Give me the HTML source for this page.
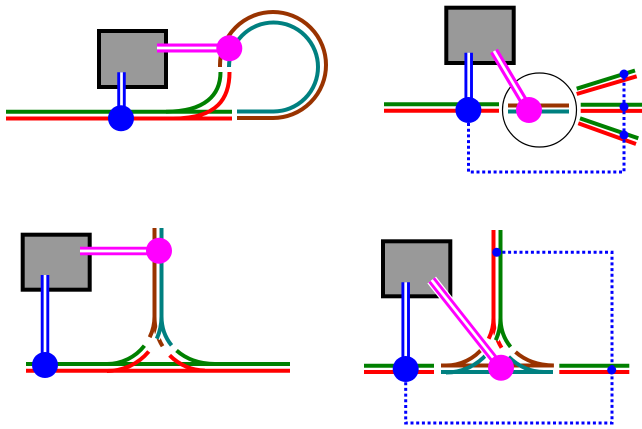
<!DOCTYPE html>
<html><head><meta charset="utf-8"><style>
html,body{margin:0;padding:0;background:#fff;}
svg{display:block;}
</style></head><body>
<svg width="642" height="429" viewBox="0 0 642 429" xmlns="http://www.w3.org/2000/svg" fill="none" stroke-linecap="butt">
<!-- ============ PANEL 1 ============ -->
<rect x="99" y="31" width="67" height="56" fill="#999999" stroke="#000" stroke-width="4"/>
<line x1="6" y1="111.7" x2="232" y2="111.7" stroke="#008000" stroke-width="4"/>
<line x1="6" y1="118.5" x2="232" y2="118.5" stroke="#ff0000" stroke-width="4"/>
<path d="M166,111.7 C205,111.7 220.5,95 220.5,72" stroke="#008000" stroke-width="4"/>
<path d="M173,118.5 C218,118.5 229.5,98 229.5,72" stroke="#ff0000" stroke-width="4"/>
<path d="M220,67 V65 A53,53 0 1 1 273,118 H237" stroke="#993300" stroke-width="4"/>
<path d="M229,67 A44.5,44.5 0 1 1 273.5,111.5 H237" stroke="#008080" stroke-width="4"/>
<line x1="121.5" y1="72.3" x2="121.5" y2="118" stroke="#0000ff" stroke-width="8.5"/>
<line x1="121.5" y1="72.3" x2="121.5" y2="110" stroke="#fff" stroke-width="2.7"/>
<circle cx="121" cy="118.3" r="13" fill="#0000ff"/>
<line x1="157" y1="48" x2="229" y2="48" stroke="#ff00ff" stroke-width="9"/>
<line x1="157" y1="48" x2="220" y2="48" stroke="#fff" stroke-width="2.7"/>
<circle cx="229.3" cy="48.3" r="13" fill="#ff00ff"/>

<!-- ============ PANEL 2 ============ -->
<rect x="446.3" y="7.7" width="67.4" height="55.3" fill="#999999" stroke="#000" stroke-width="4"/>
<line x1="384" y1="104.3" x2="499" y2="104.3" stroke="#008000" stroke-width="4"/>
<line x1="384" y1="110.7" x2="499" y2="110.7" stroke="#ff0000" stroke-width="4"/>
<line x1="508" y1="105.5" x2="569" y2="105.5" stroke="#993300" stroke-width="4"/>
<line x1="508" y1="111.5" x2="569" y2="111.5" stroke="#008080" stroke-width="4"/>
<line x1="580.7" y1="104.7" x2="642" y2="104.7" stroke="#008000" stroke-width="4"/>
<line x1="580.7" y1="110.9" x2="642" y2="110.9" stroke="#ff0000" stroke-width="4"/>
<line x1="576.7" y1="88.7" x2="635" y2="70.5" stroke="#008000" stroke-width="4"/>
<line x1="576.7" y1="94" x2="636.7" y2="76.3" stroke="#ff0000" stroke-width="4"/>
<line x1="580" y1="118.3" x2="638.3" y2="138.3" stroke="#008000" stroke-width="4"/>
<line x1="578.3" y1="123.3" x2="636" y2="144" stroke="#ff0000" stroke-width="4"/>
<circle cx="539.5" cy="110" r="37" stroke="#000" stroke-width="1.2"/>
<path d="M468.5,123 V172 H624 V74" stroke="#0000ff" stroke-width="3" stroke-dasharray="3 2.7"/>
<line x1="468.7" y1="52.7" x2="468.7" y2="110" stroke="#0000ff" stroke-width="8.5"/>
<line x1="468.7" y1="52.7" x2="468.7" y2="100" stroke="#fff" stroke-width="2.7"/>
<circle cx="468.4" cy="110" r="13" fill="#0000ff"/>
<line x1="494" y1="51" x2="529" y2="110" stroke="#ff00ff" stroke-width="9"/>
<line x1="494" y1="51" x2="524" y2="101.6" stroke="#fff" stroke-width="2.7"/>
<circle cx="529" cy="110" r="13" fill="#ff00ff"/>
<circle cx="624" cy="74" r="4.5" fill="#0000ff"/>
<circle cx="624" cy="106.7" r="4.5" fill="#0000ff"/>
<circle cx="624" cy="135" r="4.5" fill="#0000ff"/>

<!-- ============ PANEL 3 ============ -->
<rect x="22.7" y="234.7" width="67" height="55" fill="#999999" stroke="#000" stroke-width="4"/>
<line x1="26" y1="364" x2="290" y2="364" stroke="#008000" stroke-width="4"/>
<line x1="26" y1="370.7" x2="290" y2="370.7" stroke="#ff0000" stroke-width="4"/>
<line x1="154.5" y1="228" x2="154.5" y2="316.5" stroke="#993300" stroke-width="4"/>
<line x1="161.5" y1="228" x2="161.5" y2="316.5" stroke="#008080" stroke-width="4"/>
<!-- left curve -->
<path d="M154.5,316.5 A47.5,47.5 0 0 1 149.7,337.3" stroke="#993300" stroke-width="4"/>
<path d="M144.4,345.7 A47.5,47.5 0 0 1 107,364" stroke="#008000" stroke-width="4"/>
<!-- right curve brown/red -->
<path d="M154.5,316.5 C154.5,350 180,370.5 205,370.5" pathLength="100" stroke="#993300" stroke-width="4" stroke-dasharray="38 200"/>
<path d="M154.5,316.5 C154.5,350 180,370.5 205,370.5" pathLength="100" stroke="#ff0000" stroke-width="4" stroke-dasharray="48 200" stroke-dashoffset="-52"/>
<!-- teal left with casing -->
<path d="M161.5,316.5 A54.5,54.5 0 0 1 156.8,338.7" stroke="#fff" stroke-width="6.5"/>
<path d="M161.5,316.5 A54.5,54.5 0 0 1 156.8,338.7" stroke="#008080" stroke-width="4"/>
<path d="M148.75,351.5 A54.5,54.5 0 0 1 107,371" stroke="#ff0000" stroke-width="4"/>
<!-- right curve teal/green -->
<path d="M161.5,316.5 C161.5,345 185,364 215,364" pathLength="100" stroke="#008080" stroke-width="4" stroke-dasharray="39 200"/>
<path d="M161.5,316.5 C161.5,345 185,364 215,364" pathLength="100" stroke="#008000" stroke-width="4" stroke-dasharray="52 200" stroke-dashoffset="-48"/>
<line x1="45" y1="275" x2="45" y2="365" stroke="#0000ff" stroke-width="8.5"/>
<line x1="45" y1="275" x2="45" y2="355" stroke="#fff" stroke-width="2.7"/>
<circle cx="45" cy="365" r="13" fill="#0000ff"/>
<line x1="80" y1="251" x2="159" y2="251" stroke="#ff00ff" stroke-width="8.5"/>
<line x1="80" y1="251" x2="150" y2="251" stroke="#fff" stroke-width="2.7"/>
<circle cx="159" cy="250.7" r="13" fill="#ff00ff"/>

<!-- ============ PANEL 4 ============ -->
<rect x="383" y="241.3" width="67.3" height="55" fill="#999999" stroke="#000" stroke-width="4"/>
<line x1="364" y1="365.7" x2="434" y2="365.7" stroke="#008000" stroke-width="4"/>
<line x1="364" y1="372" x2="434" y2="372" stroke="#ff0000" stroke-width="4"/>
<line x1="559.3" y1="365.7" x2="629.3" y2="365.7" stroke="#008000" stroke-width="4"/>
<line x1="559.3" y1="372" x2="629.3" y2="372" stroke="#ff0000" stroke-width="4"/>
<path d="M496.7,252.3 H612 V423 H405.7 V380" stroke="#0000ff" stroke-width="3" stroke-dasharray="3 2.7"/>
<g transform="translate(339,1.5)">
<line x1="102" y1="364" x2="214" y2="364" stroke="#993300" stroke-width="4"/>
<line x1="102" y1="370.5" x2="214" y2="370.5" stroke="#008080" stroke-width="4"/>
<line x1="154.5" y1="228.5" x2="154.5" y2="316.5" stroke="#ff0000" stroke-width="4"/>
<line x1="161.5" y1="228.5" x2="161.5" y2="316.5" stroke="#008000" stroke-width="4"/>
<path d="M154.5,316.5 A47.5,47.5 0 0 1 149.7,337.3" stroke="#ff0000" stroke-width="4"/>
<path d="M144.4,345.7 A47.5,47.5 0 0 1 107,364" stroke="#993300" stroke-width="4"/>
<path d="M154.5,316.5 C154.5,350 180,370.5 205,370.5" pathLength="100" stroke="#ff0000" stroke-width="4" stroke-dasharray="38 200"/>
<path d="M154.5,316.5 C154.5,350 180,370.5 205,370.5" pathLength="100" stroke="#008080" stroke-width="4" stroke-dasharray="48 200" stroke-dashoffset="-52"/>
<path d="M161.5,316.5 A54.5,54.5 0 0 1 156.8,338.7" stroke="#fff" stroke-width="6.5"/>
<path d="M161.5,316.5 A54.5,54.5 0 0 1 156.8,338.7" stroke="#008000" stroke-width="4"/>
<path d="M148.75,351.5 A54.5,54.5 0 0 1 107,371" stroke="#008080" stroke-width="4"/>
<path d="M161.5,316.5 C161.5,345 185,364 215,364" pathLength="100" stroke="#008000" stroke-width="4" stroke-dasharray="39 200"/>
<path d="M161.5,316.5 C161.5,345 185,364 215,364" pathLength="100" stroke="#993300" stroke-width="4" stroke-dasharray="52 200" stroke-dashoffset="-48"/>
</g>
<line x1="405.7" y1="282.3" x2="405.7" y2="369" stroke="#0000ff" stroke-width="8.5"/>
<line x1="405.7" y1="282.3" x2="405.7" y2="358" stroke="#fff" stroke-width="2.7"/>
<circle cx="405.7" cy="369" r="13" fill="#0000ff"/>
<line x1="431.7" y1="280" x2="501" y2="367.7" stroke="#fff" stroke-width="11"/>
<line x1="431.7" y1="280" x2="501" y2="367.7" stroke="#ff00ff" stroke-width="8.5"/>
<line x1="431.7" y1="280" x2="494" y2="358.8" stroke="#fff" stroke-width="2.7"/>
<circle cx="501" cy="367.7" r="13" fill="#ff00ff"/>
<circle cx="496.7" cy="252.3" r="4.5" fill="#0000ff"/>
<circle cx="611.7" cy="370" r="4.5" fill="#0000ff"/>
</svg>
</body></html>
